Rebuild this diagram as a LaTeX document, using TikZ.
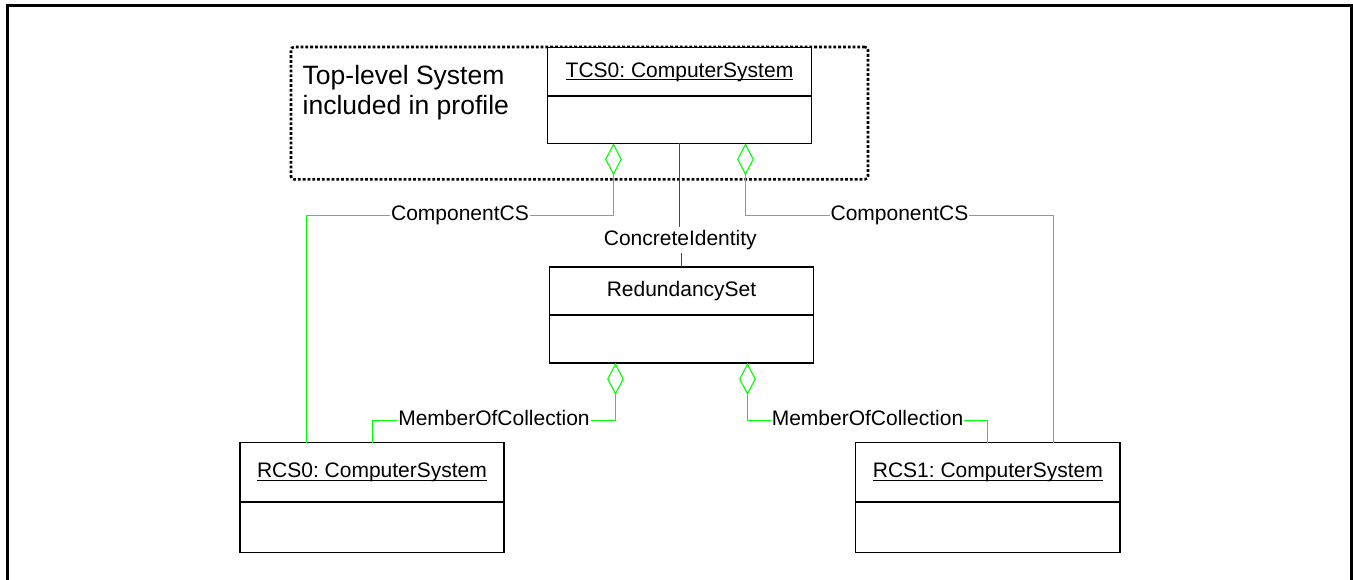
\documentclass[tikz,border=0pt]{standalone}
\usepackage{fontspec}
\setmainfont{Liberation Sans}
\usetikzlibrary{arrows.meta}
\definecolor{umlgreen}{RGB}{0,255,0}
\definecolor{umlred}{RGB}{235,0,0}
\frenchspacing
\newcommand\myul[1]{\setbox0\hbox{#1}\rlap{\rule[-3pt]{\wd0}{1.2pt}}\box0}
\begin{document}
\begin{tikzpicture}[x=1pt,y=-1pt,
  umlbox/.style={draw=black, line width=1.3pt, fill=white, inner sep=0pt, outer sep=0pt, anchor=north west},
  divider/.style={draw=black, line width=1.3pt},
  boxtitle/.style={font=\fontsize{21}{25}\selectfont, inner sep=0pt, text height=15.3pt, text depth=4.4pt},
  assoclabel/.style={font=\fontsize{21}{25}\selectfont, fill=white, inner xsep=1pt, inner ysep=3.2pt, text height=15.3pt, text depth=4.4pt},
  aggline/.style={draw=umlgreen, line width=1.5pt, arrows={Diamond[fill=white,length=32pt,width=16.7pt,line width=1.1pt]-}},
  identline/.style={draw=umlred, line width=1.2pt},
  ]
\useasboundingbox (0,0) rectangle (1353,579);
\clip (0,0) rectangle (1353,579);
% outer frame
\draw[line width=3pt] (7.7,5.7) rectangle (1351.7,600);
% profile scope
\node[draw, line width=2.6pt, dash pattern=on 2.8pt off 2pt, rounded corners=3pt,
      minimum width=577pt, minimum height=132.3pt, inner sep=0pt, outer sep=0pt, anchor=north west] (profile) at (291,47) {};
\node[anchor=north west, align=left, inner sep=0pt, font=\fontsize{26.5}{30.5}\selectfont] (note) at (302.5,64.7) {Top-level System\\included in profile};
% boxes
\node[umlbox, minimum width=264.4pt, minimum height=96pt] (tcs) at (547.3,47.3) {};
\draw[divider] ([yshift=-48.7pt]tcs.north west) -- ([yshift=-48.7pt]tcs.north east);
\node[boxtitle] (tcsname) at (679.5,71.6) {\myul{TCS0: ComputerSystem}};

\node[umlbox, minimum width=264.4pt, minimum height=96pt] (red) at (549.3,267) {};
\draw[divider] ([yshift=-48pt]red.north west) -- ([yshift=-48pt]red.north east);
\node[boxtitle] (redname) at (681.5,291) {RedundancySet};

\node[umlbox, minimum width=264pt, minimum height=109.6pt] (rcs0) at (240,442.7) {};
\draw[divider] ([yshift=-59.3pt]rcs0.north west) -- ([yshift=-59.3pt]rcs0.north east);
\node[boxtitle] (rcs0name) at (372,472.3) {\myul{RCS0: ComputerSystem}};

\node[umlbox, minimum width=264.3pt, minimum height=109.6pt] (rcs1) at (855.7,442.7) {};
\draw[divider] ([yshift=-59.3pt]rcs1.north west) -- ([yshift=-59.3pt]rcs1.north east);
\node[boxtitle] (rcs1name) at (987.85,472.3) {\myul{RCS1: ComputerSystem}};

% ConcreteIdentity
\node[assoclabel, fill=none] (ci) at (680.3,240) {ConcreteIdentity};
\draw[identline] (tcs.south) -- (tcs.south |- ci.north);
\draw[identline] (red.north |- ci.south) -- (red.north);

% aggregations
\draw[aggline] ([xshift=66.2pt]tcs.south west) -- ++(0,72.2) -| node[assoclabel,pos=0.25]{ComponentCS} ([xshift=66.5pt]rcs0.north west);
\draw[aggline] ([xshift=-66.2pt]tcs.south east) -- ++(0,72.2) -| node[assoclabel,pos=0.25]{ComponentCS} ([xshift=-66.5pt]rcs1.north east);
\draw[aggline] ([xshift=66.2pt]red.south west) -- ++(0,57.5) -| node[assoclabel,pos=0.25]{MemberOfCollection} ([xshift=132.5pt]rcs0.north west);
\draw[aggline] ([xshift=-66.2pt]red.south east) -- ++(0,57.5) -| node[assoclabel,pos=0.25]{MemberOfCollection} ([xshift=-132.5pt]rcs1.north east);
\end{tikzpicture}
\end{document}
